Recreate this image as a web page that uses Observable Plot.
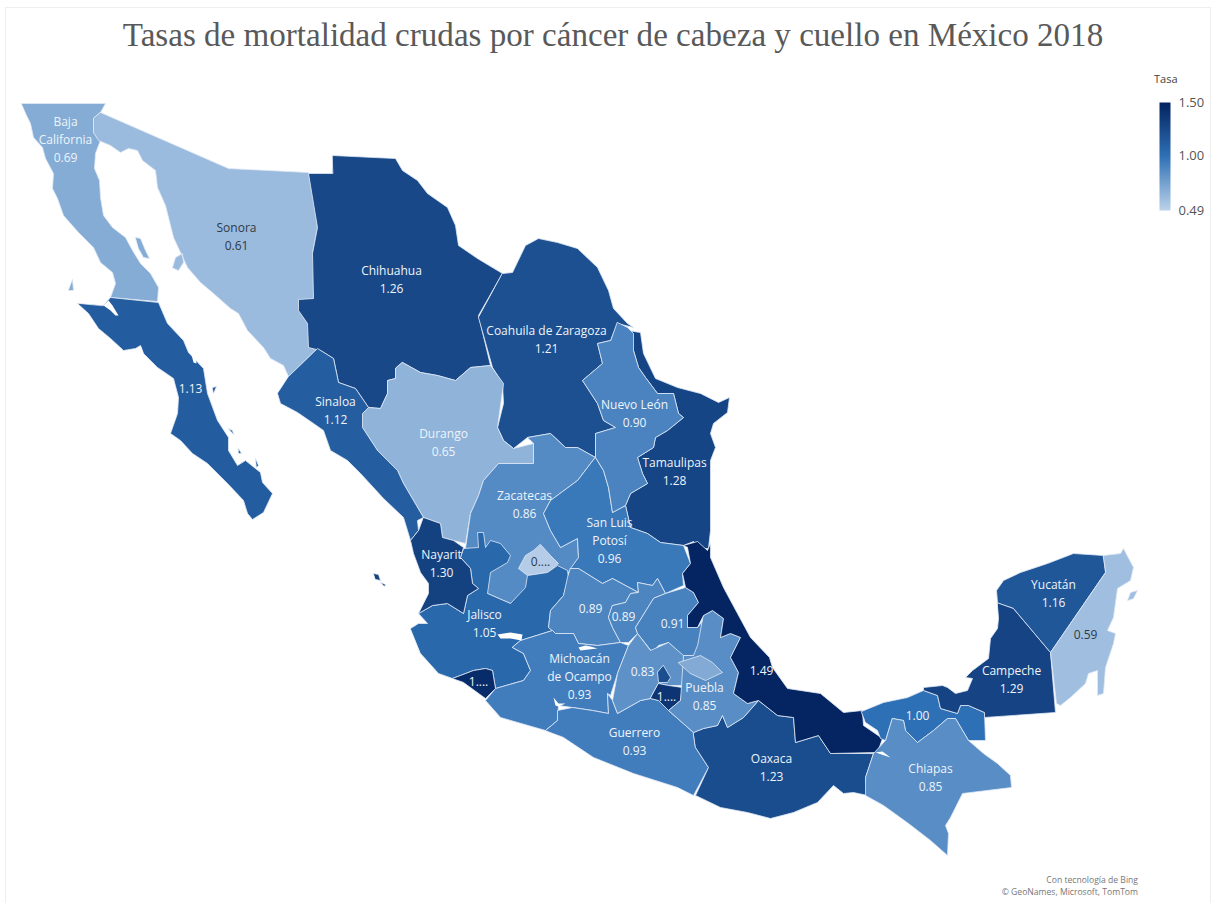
<!DOCTYPE html>
<html lang="es">
<head>
<meta charset="utf-8">
<title>Tasas de mortalidad por cáncer de cabeza y cuello, México 2018</title>
<script src="https://cdn.jsdelivr.net/npm/d3@7"></script>
<script src="https://cdn.jsdelivr.net/npm/@observablehq/plot@0.6"></script>
<style>
  html, body { margin: 0; background: #fff; }
  #page { position: relative; width: 1221px; height: 903px; overflow: hidden; }
  #frame { position: absolute; left: 5px; top: 7px; width: 1206px; height: 900px; border: 1px solid #eeeeee; box-sizing: border-box; }
  h1 { position: absolute; left: 0; top: 13px; width: 1226px; margin: 0; text-align: center;
       font: 400 33.1px/44px "Liberation Serif", serif; color: #595959; }
  #map { position: absolute; left: 0; top: 70px; }
  #legendTitle { position: absolute; left: 1154px; top: 71px; font: 11px "Open Sans", sans-serif; color: #444; }
  #legend { position: absolute; left: 1150px; top: 92px; }
  #credits { position: absolute; right: 83px; top: 874px; text-align: right;
             font: 8.6px/12px "Open Sans", sans-serif; color: #777; }
</style>
</head>
<body>
<div id="page">
  <div id="frame"></div>
  <h1>Tasas de mortalidad crudas por cáncer de cabeza y cuello en México 2018</h1>
  <div id="map"></div>
  <div id="legendTitle">Tasa</div>
  <div id="legend"></div>
  <div id="credits">Con tecnología de Bing<br>© GeoNames, Microsoft, TomTom</div>
</div>
<script>
// Crude mortality rate per state, in drawing order (small states last so they sit on top).
const stateNames = ["Baja California","Sonora","Baja California Sur","Chihuahua","Coahuila de Zaragoza","Durango","Sinaloa","Tamaulipas","Zacatecas","Aguascalientes","Jalisco","Nayarit","San Luis Potosí","Nuevo León","Guanajuato","Querétaro","Hidalgo","Michoacán de Ocampo","Colima","Guerrero","México","Ciudad de México","Morelos","Oaxaca","Puebla","Tlaxcala","Veracruz","Tabasco","Chiapas","Campeche","Yucatán","Quintana Roo"];
const rates = [0.69,0.61,1.13,1.26,1.21,0.65,1.12,1.28,0.86,0.52,1.05,1.30,0.96,0.90,0.89,0.89,0.91,0.93,1.44,0.93,0.83,1.22,1.38,1.23,0.85,0.70,1.49,1.00,0.85,1.29,1.16,0.59];

// Simplified state outlines on the map grid (one or more rings per state, y grows southward).
const bajaCalifornia = [[[21,103],[105,103],[100,112],[93,118],[93,132],[100,140],[98,145],[95,153],[94,168],[99,180],[100,197],[103,215],[112,227],[125,237],[132,250],[140,263],[150,273],[158,287],[157,301],[110,297],[115,283],[112,272],[100,262],[93,247],[78,232],[63,215],[57,198],[52,188],[53,173],[45,158],[42,147],[33,137],[30,123],[26,115]],
  [[135,237],[140,238],[145,250],[149,258],[143,257],[138,248]],[[72,279],[73,290],[68,290]]];
const sonora = [[[100,112],[228,168],[308,172],[312,190],[315,210],[317,227],[312,253],[315,277],[313,298],[298,300],[300,312],[310,328],[310,343],[317,348],[288,376],[283,365],[270,358],[263,347],[247,330],[238,313],[230,308],[213,293],[200,282],[187,267],[173,237],[165,205],[157,187],[155,170],[142,160],[137,150],[128,148],[120,152],[110,145],[98,140],[93,132],[93,118]],
  [[172,267],[175,257],[182,253],[183,262],[178,270]]];
const bajaSur = [[[77,303],[88,313],[98,328],[110,338],[123,350],[135,348],[140,345],[143,353],[157,367],[173,378],[178,397],[177,413],[170,433],[180,440],[192,453],[207,463],[227,483],[243,500],[247,513],[252,519],[263,512],[272,493],[262,482],[260,472],[245,460],[237,465],[228,450],[228,437],[217,420],[207,393],[203,368],[188,352],[183,340],[167,323],[158,302],[110,297],[103,305]],
  [[212,387],[216,386],[213,393]],[[228,428],[232,430],[233,434]],[[238,448],[241,453],[238,453]],[[255,458],[258,465],[256,467]]];
const chihuahua = [[[332,155],[395,158],[402,170],[417,180],[427,193],[447,207],[455,225],[458,245],[477,258],[502,273],[478,315],[490,365],[470,367],[455,380],[437,375],[420,372],[402,362],[395,368],[395,378],[387,380],[387,393],[380,408],[368,407],[355,388],[338,382],[333,358],[320,350],[308,347],[307,323],[298,310],[298,299],[313,298],[312,253],[317,227],[308,173],[332,173]]];
const coahuila = [[[502,273],[512,272],[525,245],[538,238],[557,242],[577,248],[597,267],[608,290],[613,308],[627,323],[633,327],[617,323],[610,340],[597,343],[602,363],[582,380],[597,403],[603,420],[615,427],[595,433],[595,457],[577,447],[565,447],[550,433],[527,437],[513,448],[503,440],[497,427],[503,403],[502,383],[492,367],[478,317]]];
const durango = [[[402,362],[420,372],[437,375],[455,380],[470,367],[490,365],[503,383],[497,427],[503,440],[513,448],[533,443],[533,463],[498,463],[483,480],[478,495],[470,513],[465,543],[453,540],[442,537],[440,523],[423,517],[403,483],[397,470],[377,450],[362,427],[362,413],[368,407],[380,408],[387,393],[387,380],[395,378],[395,368]]];
const sinaloa = [[[288,376],[317,348],[333,358],[338,382],[355,388],[368,407],[362,413],[362,427],[377,450],[397,470],[403,483],[423,517],[417,520],[418,530],[410,540],[403,517],[383,498],[360,473],[347,460],[330,450],[323,430],[313,423],[297,412],[280,403],[277,393]]];
const tamaulipas = [[[627,330],[640,332],[643,353],[655,378],[677,387],[700,393],[718,402],[729,397],[727,412],[713,423],[710,433],[715,447],[710,460],[710,530],[708,548],[700,548],[693,541],[683,545],[660,542],[647,533],[630,527],[625,505],[630,493],[647,483],[642,473],[637,457],[653,447],[655,437],[667,430],[683,417],[678,413],[673,393],[657,393],[645,377],[638,367],[633,350]]];
const zacatecas = [[[527,437],[550,433],[565,447],[577,447],[595,457],[577,480],[550,500],[543,513],[550,530],[560,547],[577,538],[578,557],[568,572],[530,590],[510,603],[487,593],[475,590],[465,548],[470,513],[478,495],[483,480],[498,463],[533,463],[533,443]]];
const aguascalientes = [[[540,544],[550,555],[558,563],[547,572],[527,575],[518,568],[525,555],[533,550]]];
const jalisco = [[[410,628],[418,623],[427,623],[418,613],[432,605],[447,603],[463,613],[467,595],[478,588],[472,583],[470,568],[460,557],[463,548],[478,547],[477,532],[483,532],[485,547],[490,540],[500,543],[510,555],[507,562],[490,572],[487,593],[510,603],[525,587],[527,575],[547,572],[557,565],[567,570],[568,577],[563,595],[550,610],[548,627],[552,630],[520,640],[512,647],[523,653],[530,670],[523,680],[495,688],[492,670],[485,668],[473,670],[452,678],[438,673],[420,653]]];
const nayarit = [[[423,517],[440,523],[442,537],[453,540],[463,547],[460,557],[470,568],[472,583],[478,588],[467,595],[463,613],[447,603],[432,605],[418,613],[428,593],[428,583],[420,572],[413,553],[410,540],[418,530]],
  [[373,573],[378,574],[380,580],[375,579]],[[380,582],[385,584],[384,586]]];
const sanLuisPotosi = [[[595,457],[603,470],[608,487],[612,512],[625,505],[630,527],[647,533],[660,542],[683,545],[690,563],[682,573],[683,585],[665,593],[657,578],[652,585],[637,582],[638,592],[612,578],[602,583],[578,568],[570,568],[578,557],[577,538],[560,547],[550,530],[543,513],[550,500],[577,480]]];
const nuevoLeon = [[[617,322],[627,327],[633,333],[633,350],[638,367],[645,377],[657,393],[673,393],[678,413],[683,417],[667,430],[655,437],[653,447],[637,457],[642,473],[647,483],[630,493],[625,505],[612,512],[608,487],[603,470],[595,457],[595,433],[615,427],[603,420],[597,403],[582,380],[602,363],[597,343],[610,340]]];
const guanajuato = [[[570,568],[578,568],[602,583],[612,578],[638,592],[630,593],[625,602],[612,605],[608,617],[612,627],[620,642],[597,645],[578,643],[573,633],[555,633],[548,627],[550,610],[563,595],[567,577]]];
const queretaro = [[[612,605],[625,602],[630,593],[638,592],[637,582],[652,585],[657,578],[665,593],[653,598],[635,627],[637,633],[628,642],[620,642],[612,627],[608,617]]];
const hidalgo = [[[665,593],[685,587],[693,592],[698,602],[687,615],[687,627],[697,627],[705,617],[700,645],[693,655],[682,655],[668,642],[658,645],[652,652],[637,633],[635,627],[653,598]]];
const michoacan = [[[520,640],[552,630],[555,633],[573,633],[578,643],[597,645],[620,642],[628,645],[617,673],[610,695],[607,693],[608,713],[592,710],[572,707],[558,705],[557,720],[545,730],[500,717],[485,700],[495,688],[523,680],[530,670],[523,653],[512,647]]];
const colima = [[[452,678],[473,670],[485,668],[492,670],[495,688],[485,698],[463,682]]];
const guerrero = [[[545,730],[557,720],[557,710],[572,707],[592,710],[608,713],[607,693],[612,700],[617,713],[640,700],[650,698],[658,700],[668,710],[693,732],[695,747],[708,767],[693,795],[677,787],[633,773],[593,757],[563,737]]];
const edomex = [[[628,645],[637,633],[650,650],[668,642],[683,655],[683,685],[668,685],[658,683],[650,698],[640,700],[617,713],[612,700],[617,673]]];
const cdmx = [[[663,665],[670,677],[667,682],[658,682],[657,672]]];
const morelos = [[[658,683],[668,685],[682,687],[680,700],[668,710],[658,700],[650,698]]];
const oaxaca = [[[693,732],[703,728],[717,725],[722,715],[727,727],[743,717],[758,700],[777,715],[793,717],[795,742],[818,735],[830,753],[873,753],[865,777],[867,795],[853,792],[843,793],[833,785],[817,802],[793,812],[770,818],[747,812],[720,807],[695,795],[708,767],[695,747]]];
const puebla = [[[703,615],[712,610],[723,618],[720,637],[730,633],[740,637],[730,657],[738,672],[733,693],[747,703],[758,700],[743,717],[727,727],[722,715],[717,725],[703,728],[693,732],[668,710],[680,700],[683,655],[693,655],[697,645]]];
const tlaxcala = [[[678,662],[700,655],[712,662],[722,672],[705,680],[690,673]]];
const veracruz = [[[683,545],[697,541],[707,550],[710,543],[710,557],[723,587],[737,613],[750,637],[769,657],[772,667],[787,688],[820,693],[843,712],[862,710],[863,725],[882,738],[877,752],[830,753],[818,735],[795,742],[793,717],[777,715],[758,700],[747,703],[733,693],[738,672],[730,657],[740,637],[730,633],[720,637],[723,618],[712,610],[703,615],[697,627],[687,627],[687,615],[698,602],[693,592],[685,587],[682,573],[690,563],[687,547]]];
const tabasco = [[[861,711],[883,702],[907,697],[923,690],[937,695],[940,708],[957,713],[960,705],[968,705],[984,712],[985,740],[968,740],[955,718],[947,718],[933,730],[917,742],[905,730],[903,720],[892,718],[885,740],[880,738],[877,730],[865,722]]];
const chiapas = [[[892,718],[903,720],[905,730],[917,742],[933,730],[947,718],[955,718],[968,740],[983,753],[997,763],[1010,775],[1011,787],[962,793],[950,817],[945,825],[948,833],[947,855],[930,840],[908,823],[883,805],[865,795],[865,777],[873,753],[885,740]]];
const campeche = [[[997,602],[1013,608],[1050,652],[1055,712],[984,717],[984,712],[968,705],[960,705],[957,713],[940,708],[937,695],[923,690],[923,687],[942,685],[947,687],[955,693],[967,690],[972,678],[965,677],[972,670],[988,658],[990,638],[997,628],[998,618]]];
const yucatan = [[[997,602],[996,590],[1003,580],[1020,572],[1047,563],[1073,553],[1103,555],[1105,572],[1050,652],[1013,608]]];
const quintanaRoo = [[[1103,555],[1120,553],[1123,548],[1133,567],[1130,580],[1117,588],[1113,617],[1107,630],[1115,633],[1113,643],[1105,667],[1103,693],[1097,695],[1097,670],[1088,673],[1085,683],[1070,697],[1060,705],[1056,703],[1050,652],[1105,572]],
  [[1127,600],[1130,592],[1137,590],[1133,598]]];
const outlines = [bajaCalifornia,sonora,bajaSur,chihuahua,coahuila,durango,sinaloa,tamaulipas,zacatecas,aguascalientes,jalisco,nayarit,sanLuisPotosi,nuevoLeon,guanajuato,queretaro,hidalgo,michoacan,colima,guerrero,edomex,cdmx,morelos,oaxaca,puebla,tlaxcala,veracruz,tabasco,chiapas,campeche,yucatan,quintanaRoo];

// Lakes and lagoons that interrupt the state fills.
const waterBodies = [
  [[497,634],[510,632],[522,634],[521,640],[510,638],[500,638]],
  [[578,647],[585,645],[590,646],[597,648],[588,649],[580,650]],
  [[553,697],[558,703],[565,703],[558,706],[555,705]],
  [[875,752],[882,751],[890,757],[881,754]],
  [[103,305],[108,300],[112,305],[118,315],[115,315],[110,310]],
  [[190,350],[195,353],[196,363],[193,362]],
  [[140,345],[141,352],[143,353]]
];

// Label text per state; three small states print a shortened value.
const labelStates = ["Baja California","Sonora","Chihuahua","Coahuila de Zaragoza","Baja California Sur","Sinaloa","Durango","Nuevo León","Tamaulipas","Zacatecas","San Luis Potosí","Nayarit","Aguascalientes","Jalisco","Guanajuato","Querétaro","Hidalgo","Michoacán de Ocampo","México","Colima","Morelos","Puebla","Veracruz","Guerrero","Oaxaca","Chiapas","Tabasco","Campeche","Yucatán","Quintana Roo"];
const labelNames = ["Baja\nCalifornia","Sonora","Chihuahua","Coahuila de Zaragoza","","Sinaloa","Durango","Nuevo León","Tamaulipas","Zacatecas","San Luis\nPotosí","Nayarit","","Jalisco","","","","Michoacán\nde Ocampo","","","","Puebla","","Guerrero","Oaxaca","Chiapas","","Campeche","Yucatán",""];
const labelX = [65,236,391,546,190,335,443,634,674,524,609,441,540,484,590,623,672,579,642,478,666,704,761,634,771,930,917,1011,1053,1085];
const labelY = [138,235,278,338,387,409,441,412,470,503,539,562,560,622,607,615,622,675,670,680,695,695,669,740,766,776,714,678,592,633];
const shortened = ["Aguascalientes","Colima","Morelos"];
const darkText = ["Sonora","Aguascalientes","Quintana Roo"];

const rateOf = new Map(stateNames.map((n, i) => [n, rates[i]]));
const features = stateNames.map((name, i) => ({
  type: "Feature",
  properties: {name, rate: rates[i]},
  geometry: {type: "MultiPolygon", coordinates: outlines[i].map(ring => [[...ring, ring[0]]])}
}));
const water = {type: "MultiPolygon", coordinates: waterBodies.map(ring => [[...ring, ring[0]]])};
const labels = labelStates.map((state, i) => {
  const value = rateOf.get(state);
  const valueText = shortened.includes(state) ? value.toFixed(2)[0] + "...." : value.toFixed(2);
  return {
    x: labelX[i], y: labelY[i],
    text: labelNames[i] ? labelNames[i] + "\n" + valueText : valueText,
    dark: darkText.includes(state)
  };
});

const colorScale = {type: "linear", domain: [0.49, 1, 1.5], range: ["#bcd2ea", "#2e70b5", "#03235f"], clamp: true};
const mapFrame = {type: "Polygon", coordinates: [[[0,70],[1221,70],[1221,903],[0,903],[0,70]]]};

const map = Plot.plot({
  width: 1221, height: 833, margin: 0,
  projection: {type: "identity", domain: mapFrame, clip: false},
  color: colorScale,
  marks: [
    Plot.geo(features, {fill: d => d.properties.rate, stroke: "#dfe9f5", strokeWidth: 0.8, strokeLinejoin: "round"}),
    Plot.geo([water], {fill: "white"}),
    Plot.text(labels, {
      x: "x", y: "y", text: "text",
      fill: d => d.dark ? "#2f3a45" : "#eef4fb",
      lineHeight: 1.5, fontSize: 12, fontFamily: "Open Sans, sans-serif"
    })
  ]
});
document.getElementById("map").append(map);

// Vertical colour ramp for the legend.
const legend = Plot.plot({
  width: 70, height: 128, marginTop: 10, marginBottom: 10, marginLeft: 9, marginRight: 50,
  x: {domain: [0, 1], axis: null},
  y: {domain: [0.49, 1.5], axis: null},
  color: colorScale,
  marks: [
    Plot.raster({fill: (x, y) => y, x1: 0, x2: 1, y1: 0.49, y2: 1.5, width: 2, height: 108}),
    Plot.axisY({anchor: "right", ticks: [0.49, 1, 1.5], tickSize: 0, tickPadding: 8, tickFormat: d3.format(".2f"),
      label: null, fontSize: 13, fontFamily: "Open Sans, sans-serif", color: "#555"})
  ]
});
document.getElementById("legend").append(legend);
</script>
</body>
</html>
